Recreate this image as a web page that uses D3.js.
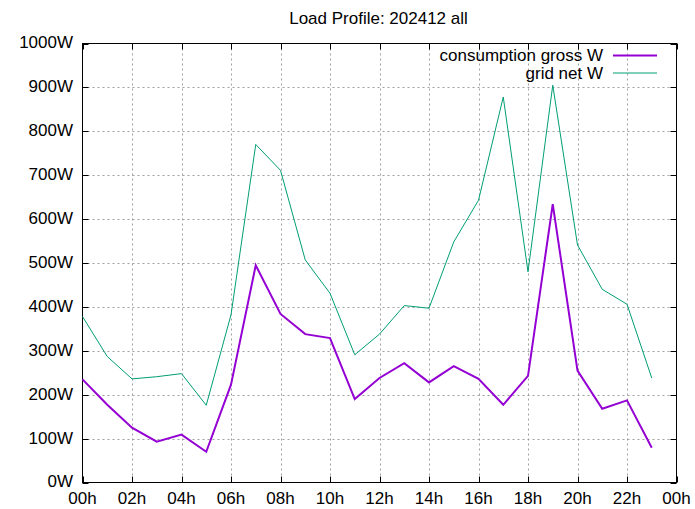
<!DOCTYPE html>
<html><head><meta charset="utf-8">
<script src="https://cdn.jsdelivr.net/npm/d3@7"></script>
<style>
html,body{margin:0;padding:0;background:#fff;}
svg{display:block;}
text{font-family:"Liberation Sans",Arial,sans-serif;fill:#000;}
</style></head>
<body>
<svg id="chart" width="695" height="509"></svg>
<script>
const title = "Load Profile: 202412 all";
const hours = d3.range(0, 24);
const consumptionGross = [235,177,125,93,109,70,223,495,384,338,329,190,238,272,228,265,236,177,243,634,255,168,187,79];
const gridNet = [378,287,236,241,248,176,382,770,711,507,431,291,338,403,397,548,643,878,480,905,541,440,406,238];
const xTicks = d3.range(0, 25, 2);
const xTickLabels = ["00h","02h","04h","06h","08h","10h","12h","14h","16h","18h","20h","22h","00h"];
const yTicks = d3.range(0, 1001, 100);
const yTickLabels = yTicks.map(v => v + "W");
const seriesNames = ["consumption gross W", "grid net W"];
const seriesColors = ["#9400d3", "#009e73"];
const seriesWidths = [2, 1];

const svg = d3.select("#chart");
const L = 82.5, R = 676.5, T = 43.5, B = 482.5;
const x = d3.scaleLinear().domain([0, 24]).range([L, R]);
const y = d3.scaleLinear().domain([0, 1000]).range([B, T]);
const font = 17;

// grid
const g = svg.append("g");
g.selectAll("line.gx").data(xTicks.slice(1, -1)).enter().append("line")
  .attr("x1", d => Math.round(x(d)) + 0.5).attr("x2", d => Math.round(x(d)) + 0.5)
  .attr("y1", T).attr("y2", B)
  .attr("stroke", "#a0a0a0").attr("stroke-width", 1).attr("stroke-dasharray", "2,3");
g.selectAll("line.gy").data(yTicks.slice(1, -1)).enter().append("line")
  .attr("y1", d => Math.round(y(d)) + 0.5).attr("y2", d => Math.round(y(d)) + 0.5)
  .attr("x1", L).attr("x2", R)
  .attr("stroke", "#a0a0a0").attr("stroke-width", 1).attr("stroke-dasharray", "2,3");

// ticks (inward, mirrored)
const tk = 6;
yTicks.forEach(v => {
  const yy = Math.round(y(v)) + 0.5;
  g.append("line").attr("x1", L).attr("x2", L + tk).attr("y1", yy).attr("y2", yy).attr("stroke", "#000");
  g.append("line").attr("x1", R).attr("x2", R - tk).attr("y1", yy).attr("y2", yy).attr("stroke", "#000");
});
xTicks.forEach(v => {
  const xx = Math.round(x(v)) + 0.5;
  g.append("line").attr("x1", xx).attr("x2", xx).attr("y1", B).attr("y2", B - tk).attr("stroke", "#000");
  g.append("line").attr("x1", xx).attr("x2", xx).attr("y1", T).attr("y2", T + tk).attr("stroke", "#000");
});

// border
svg.append("rect").attr("x", L).attr("y", T).attr("width", R - L).attr("height", B - T)
  .attr("fill", "none").attr("stroke", "#000").attr("stroke-width", 1);

// tick labels
svg.selectAll("text.yl").data(yTicks).enter().append("text")
  .attr("x", 73).attr("y", d => y(d) - 1).attr("dy", "0.35em")
  .attr("text-anchor", "end").attr("font-size", font)
  .text((d, i) => yTickLabels[i]);
svg.selectAll("text.xl").data(xTicks).enter().append("text")
  .attr("x", d => x(d)).attr("y", 504)
  .attr("text-anchor", "middle").attr("font-size", font)
  .text((d, i) => xTickLabels[i]);

// title
svg.append("text").attr("x", 378.5).attr("y", 24)
  .attr("text-anchor", "middle").attr("font-size", font).text(title);

// lines
[1, 0].forEach(si => {
  const data = si === 0 ? consumptionGross : gridNet;
  const line = d3.line().x((d, i) => x(hours[i])).y(d => y(d));
  svg.append("path").datum(data).attr("d", line)
    .attr("fill", "none").attr("stroke", seriesColors[si]).attr("stroke-width", seriesWidths[si])
    .attr("stroke-linejoin", "miter");
});

// legend
seriesNames.forEach((name, i) => {
  const ly = 55.5 + i * 17.5;
  svg.append("text").attr("x", 603).attr("y", ly).attr("dy", "0.35em")
    .attr("text-anchor", "end").attr("font-size", font).text(name);
  svg.append("line").attr("x1", 613).attr("x2", 657).attr("y1", ly).attr("y2", ly)
    .attr("stroke", seriesColors[i]).attr("stroke-width", seriesWidths[i]);
});
</script>
</body></html>
